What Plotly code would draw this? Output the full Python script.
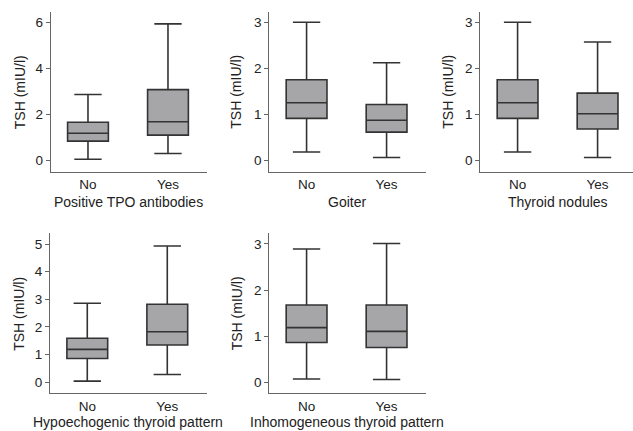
import plotly.graph_objects as go

groups = ["No", "Yes"]
titles = ["Positive TPO antibodies", "Goiter", "Thyroid nodules",
          "Hypoechogenic thyroid pattern", "Inhomogeneous thyroid pattern"]

low = [[0.04, 0.29], [0.18, 0.06], [0.18, 0.06], [0.04, 0.28], [0.08, 0.07]]
q1 = [[0.83, 1.09], [0.91, 0.61], [0.91, 0.68], [0.86, 1.35], [0.87, 0.76]]
med = [[1.17, 1.67], [1.25, 0.87], [1.25, 1.01], [1.19, 1.83], [1.19, 1.11]]
q3 = [[1.65, 3.07], [1.75, 1.21], [1.75, 1.46], [1.59, 2.82], [1.68, 1.68]]
high = [[2.86, 5.93], [3.00, 2.12], [3.00, 2.57], [2.86, 4.93], [2.89, 3.01]]

yticks = [[0, 2, 4, 6], [0, 1, 2, 3], [0, 1, 2, 3], [0, 1, 2, 3, 4, 5], [0, 1, 2, 3]]

W, H = 633, 431
# panel geometry in pixels: (x0, x1, ytop, ybottom)
geom = [(50.7, 206.7, 11.7, 171.7), (269.3, 425.7, 11.7, 171.7), (480.3, 633, 11.7, 171.7),
        (50.0, 206.7, 233.3, 393.3), (269.3, 425.7, 233.3, 393.3)]
yranges = [[-0.5, 6.46], [-0.25, 3.23], [-0.25, 3.23], [-0.4, 5.39], [-0.23, 3.23]]
ytitle_x = [20, 236.5, 448.5, 19, 236.5]
xtitle_y = [201.7, 201.7, 201.7, 421.5, 421.5]
px_per_unit = 80.0

font = "Liberation Sans, Arial, Helvetica, sans-serif"
fig = go.Figure()
annotations = []
for i in range(5):
    n = "" if i == 0 else str(i + 1)
    fig.add_trace(go.Box(
        x=groups, q1=q1[i], median=med[i], q3=q3[i],
        lowerfence=low[i], upperfence=high[i],
        xaxis="x" + n, yaxis="y" + n,
        fillcolor="#a6a6a8", line=dict(color="#333333", width=1.6),
        width=0.51, whiskerwidth=0.67, boxpoints=False, showlegend=False,
        hoverinfo="skip",
    ))
    x0, x1, yt, yb = geom[i]
    xstart = -0.466
    xend = xstart + (x1 - x0) / px_per_unit
    fig.update_layout(**{
        "xaxis" + n: dict(
            domain=[x0 / W, x1 / W], anchor="y" + n, range=[xstart, xend],
            showline=True, linecolor="#666666", linewidth=1.2, ticks="",
            showgrid=False, zeroline=False, type="category", fixedrange=True,
            tickfont=dict(size=13.5, color="#222222", family=font),
        ),
        "yaxis" + n: dict(
            domain=[1 - yb / H, 1 - yt / H], anchor="x" + n, range=yranges[i],
            showline=True, linecolor="#666666", linewidth=1.2,
            ticks="outside", ticklen=4, tickcolor="#666666", tickwidth=1,
            tickvals=yticks[i], showgrid=False, zeroline=False, fixedrange=True,
            tickfont=dict(size=13.5, color="#222222", family=font),
        ),
    })
    annotations.append(dict(
        text="TSH (mIU/l)", textangle=-90, xref="paper", yref="paper",
        x=ytitle_x[i] / W, y=1 - ((yt + yb) / 2 + 0.5) / H,
        xanchor="center", yanchor="middle", showarrow=False,
        font=dict(size=14, color="#222222", family=font),
    ))
    annotations.append(dict(
        text=titles[i], xref="paper", yref="paper",
        x=(x0 + (x0 + 156.2)) / 2 / W, y=1 - xtitle_y[i] / H,
        xanchor="center", yanchor="middle", showarrow=False,
        font=dict(size=14, color="#222222", family=font),
    ))

fig.update_layout(
    width=W, height=H, margin=dict(l=0, r=0, t=0, b=0),
    plot_bgcolor="white", paper_bgcolor="white",
    annotations=annotations, font=dict(family=font),
)
fig.write_html(
    "out.html",
    config={"displayModeBar": False},
    post_script="document.body.style.margin='0';document.body.style.padding='0';"
                "document.body.style.overflow='hidden';",
)
